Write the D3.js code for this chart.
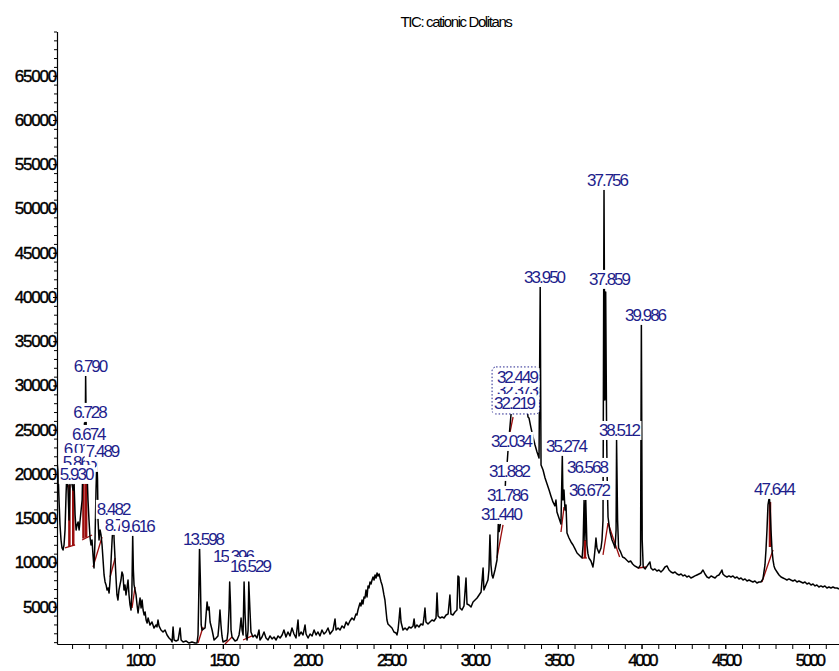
<!DOCTYPE html>
<html>
<head>
<meta charset="utf-8">
<script src="https://cdn.jsdelivr.net/npm/d3@7"></script>
<style>
  body { margin: 0; background: #fff; }
  svg { display: block; }
</style>
</head>
<body>
<div id="chart"></div>
<script>
// TIC trace: [scan, abundance]
const trace = [
  [510,21360],[516,20450],[522,17060],[528,14240],[534,12540],[540,11640],[546,11410],[552,11980],[558,13670],[564,17630],
  [570,20680],[576,18190],[582,14800],[588,19320],[594,21810],[600,18760],[606,18190],[612,18870],[618,15370],[624,13670],
  [630,14240],[636,14580],[642,13670],[648,14800],[654,15930],[660,17060],[667,23500],[670,20450],[674,25760],[678,22600],
  [681,31190],[685,24000],[689,20450],[695,17060],[701,14800],[707,12880],[713,11980],[719,12540],[725,10850],[731,9380],
  [737,12540],[743,18190],[748,21580],[752,19320],[755,14800],[761,12540],[767,13670],[773,13110],[779,11980],[785,10280],
  [791,8590],[797,7800],[803,7460],[809,6890],[815,7120],[821,6550],[827,8020],[833,10280],[839,12540],[847,15030],
  [851,12540],[857,10280],[863,8020],[868,6330],[874,5760],[880,6890],[886,7460],[892,8020],[898,8930],[904,8590],
  [910,6890],[916,7460],[922,6330],[928,7120],[934,8020],[940,6330],[946,5200],[952,4630],[957,6500],[962,13110],
  [966,9150],[970,7460],[976,6900],[982,6330],[988,5200],[994,4290],[1000,5200],[1006,5990],[1012,4860],[1018,5760],
  [1024,4630],[1030,4070],[1036,4410],[1042,3500],[1048,3160],[1054,3730],[1065,2940],[1077,3280],[1089,2600],[1101,2940],
  [1107,2710],[1113,3500],[1119,2830],[1131,2370],[1143,2150],[1155,2370],[1167,1810],[1179,1470],[1191,1240],[1197,1020],
  [1203,2710],[1209,1240],[1221,1130],[1233,1240],[1245,2600],[1251,1240],[1263,1020],[1280,1130],[1298,900],[1316,1020],
  [1334,900],[1346,900],[1352,1810],[1356,5760],[1361,11750],[1366,8020],[1371,2940],[1376,2370],[1394,2600],[1400,4070],
  [1406,5540],[1412,4630],[1418,4970],[1424,3280],[1436,2370],[1448,1240],[1460,1470],[1471,1700],[1477,2940],[1483,4630],
  [1489,2940],[1495,1700],[1501,1020],[1513,1130],[1525,1240],[1531,2150],[1537,4630],[1541,7800],[1546,5200],[1549,2370],
  [1555,1580],[1573,1130],[1585,1240],[1597,1810],[1603,2600],[1609,3730],[1615,2370],[1621,1810],[1627,7800],[1633,4070],
  [1639,1700],[1645,1240],[1651,2370],[1655,7800],[1662,4630],[1668,2150],[1680,1580],[1692,1810],[1704,1470],[1716,2370],
  [1722,1240],[1734,1580],[1746,2150],[1758,1470],[1770,1240],[1782,1700],[1794,1360],[1806,1580],[1818,1240],[1830,1700],
  [1842,1470],[1854,1810],[1865,2370],[1877,1580],[1889,2150],[1901,1700],[1913,2600],[1925,1920],[1937,1470],[1949,3500],
  [1955,1700],[1967,2150],[1979,1810],[1991,2940],[1997,1920],[2009,1470],[2021,1920],[2033,1700],[2045,2370],[2057,1810],
  [2068,2150],[2080,1700],[2092,2370],[2104,1920],[2116,2150],[2128,2600],[2140,1920],[2158,2370],[2170,3620],[2176,2370],
  [2188,2600],[2200,2370],[2212,2830],[2224,2600],[2236,3280],[2248,2940],[2259,3390],[2271,3730],[2283,3500],[2295,4180],
  [2301,4070],[2307,4630],[2319,5420],[2325,5090],[2331,5760],[2337,5310],[2343,6100],[2349,5990],[2355,6890],[2361,6100],
  [2367,7350],[2373,7120],[2379,7800],[2385,7570],[2391,8020],[2397,8360],[2403,8020],[2409,8590],[2415,8250],[2421,8810],
  [2427,8480],[2433,8700],[2439,8250],[2445,7800],[2451,7460],[2457,6890],[2462,6330],[2468,5760],[2474,4630],[2480,3500],
  [2486,3050],[2498,2830],[2510,2600],[2522,2150],[2534,2030],[2540,1810],[2546,2370],[2552,3500],[2558,4860],[2564,3280],
  [2576,2370],[2588,2600],[2600,2370],[2612,2710],[2624,2600],[2636,2830],[2642,3620],[2648,2600],[2659,2940],[2671,2710],
  [2683,3050],[2695,2940],[2701,3730],[2707,4860],[2713,3280],[2725,3050],[2737,3280],[2749,3500],[2761,3390],[2773,3730],
  [2779,6550],[2785,3960],[2797,3730],[2809,3840],[2821,3730],[2833,4070],[2845,4180],[2856,6330],[2862,4180],[2874,4070],
  [2886,4410],[2898,4630],[2904,8480],[2910,8360],[2916,4860],[2928,4630],[2940,5090],[2952,8250],[2958,5310],[2970,5200],
  [2982,4970],[2994,5540],[3006,5760],[3018,5990],[3030,6330],[3042,6670],[3054,9380],[3059,6890],[3071,7460],[3083,8020],
  [3089,9150],[3095,13110],[3101,9720],[3107,8590],[3113,8250],[3125,9150],[3137,10280],[3141,12000],[3145,14580],[3150,13500],
  [3156,14200],[3162,15000],[3168,15600],[3174,15800],[3179,16720],[3184,17200],[3188,19320],[3195,20500],[3203,22710],[3212,24800],
  [3222,27010],[3230,28000],[3237,28930],[3245,30060],[3255,31000],[3268,31800],[3280,32000],[3292,31500],[3305,30500],[3315,28000],
  [3322,26440],[3328,26330],[3340,25200],[3352,24180],[3364,23280],[3376,22490],[3388,21810],[3395,41130],[3400,21020],[3412,20450],
  [3424,19550],[3436,18870],[3448,18190],[3459,17520],[3471,16840],[3483,16390],[3489,17060],[3495,15710],[3507,15030],[3519,14350],
  [3527,22150],[3531,17060],[3537,18190],[3543,15930],[3549,16500],[3555,13330],[3567,12770],[3579,12320],[3591,11980],[3603,11530],
  [3615,11070],[3627,10850],[3639,10620],[3645,10510],[3651,11980],[3657,17060],[3662,12540],[3667,17060],[3674,11980],[3680,11000],
  [3686,10510],[3698,10170],[3710,9490],[3716,10280],[3722,11410],[3728,12770],[3734,11640],[3746,11070],[3758,11640],[3764,12540],
  [3770,14800],[3776,52320],[3781,28360],[3786,40570],[3791,26100],[3794,20450],[3800,15140],[3806,14240],[3812,13450],[3824,12540],
  [3836,11980],[3842,11640],[3848,13670],[3851,23840],[3857,14800],[3863,11640],[3875,11190],[3887,10620],[3899,10510],[3911,10280],
  [3923,10060],[3935,10170],[3947,9830],[3959,9610],[3971,9490],[3983,9380],[3994,9720],[3999,37060],[4004,12540],[4010,9490],
  [4022,9270],[4034,9610],[4050,10060],[4056,9380],[4068,9150],[4080,9270],[4092,9040],[4104,9150],[4116,8930],[4128,9150],
  [4140,9490],[4152,9610],[4164,9150],[4176,8930],[4188,8810],[4200,8930],[4212,8700],[4224,8590],[4236,8700],[4248,8480],
  [4259,8590],[4271,8360],[4283,8480],[4295,8250],[4307,8360],[4319,8480],[4331,8590],[4343,8700],[4355,8810],[4367,9150],
  [4379,8700],[4391,8360],[4403,8250],[4415,8480],[4427,8360],[4439,8250],[4450,8480],[4462,8590],[4474,8930],[4480,9150],
  [4486,8700],[4498,8480],[4510,8360],[4522,8480],[4534,8360],[4546,8480],[4558,8250],[4570,8360],[4582,8140],[4594,8250],
  [4606,8020],[4618,8140],[4630,7910],[4642,8020],[4653,7910],[4665,7800],[4677,7910],[4689,7680],[4701,7800],[4713,7800],
  [4725,8140],[4737,9720],[4743,11410],[4749,13670],[4755,16500],[4763,17400],[4767,16500],[4773,13670],[4779,11410],[4785,10280],
  [4791,9610],[4797,9270],[4809,8930],[4821,8590],[4833,8360],[4845,8250],[4856,8140],[4868,8020],[4880,8140],[4892,8020],
  [4904,7910],[4916,8020],[4928,7800],[4940,7910],[4952,7800],[4964,7680],[4976,7800],[4988,7570],[5000,7680],[5012,7460],
  [5024,7570],[5036,7350],[5047,7460],[5059,7230],[5071,7350],[5083,7230],[5095,7350],[5107,7120],[5119,7230],[5131,7120],
  [5143,7230],[5155,7120],[5167,7120],[5179,7010]
];

// integration baselines / drop lines: [scanStart, valueStart, scanEnd, valueEnd]
const baselines = [
  [558,11640,618,11980],[584,18760,584,11750],[607,18760,607,11900],
  [660,12540,719,13110],[668,19300,668,12700],[684,19300,684,12800],
  [725,9490,779,12880],[827,8360,857,10510],[958,4860,976,7230],
  [1352,900,1382,2710],[1513,790,1555,1580],[1621,1240,1674,1700],
  [3137,10510,3173,14240],[3209,24180,3233,26440],[3519,13450,3537,16270],
  [3645,10510,3674,10510],[3662,12540,3662,10510],
  [3770,10850,3800,14460],[3800,14460,3869,10620],
  [3977,9380,4028,9490],[4719,7800,4785,11410],[4767,16830,4767,11750]
];

// peak labels (retention time), drawn in this order
const peakNames  = ["6.012","5.863","5.930","6.674","7.489","6.728","6.790","8.482","8.746","9.616",
                    "13.598","15.396","16.529","31.440","31.786","31.882","32.034","32.373","32.219","32.449",
                    "33.950","35.274","36.568","36.672","37.859","37.756","38.512","39.986","47.644"];
const labelScan  = [648,642,624,697,779,704,707,845,892,990,
                    1382,1561,1662,3161,3197,3209,3221,3256,3239,3256,
                    3418,3549,3674,3686,3806,3794,3865,4021,4791];
const labelLevel = [22830,21360,20000,24520,22600,27010,32200,16050,14240,14130,
                    12660,10740,9600,15480,17630,20340,23730,29490,28020,30960,
                    42260,23170,20790,18190,42040,53220,24970,37970,18310];
const groupedNames = ["32.373","32.219","32.449"];

const yMajor = d3.range(5000, 65001, 5000);
const yMinor = d3.range(1000, 70001, 1000);
const xMajor = d3.range(1000, 5001, 500);
const xMinor = d3.range(600, 5101, 100);

const title = "TIC: cationic Dolitans";

const width = 839, height = 671;
const svg = d3.select("#chart").append("svg")
  .attr("width", width)
  .attr("height", height);

const x = d3.scaleLinear().domain([510, 5179]).range([57, 839]);
const y = d3.scaleLinear().domain([790, 70000]).range([644, 31.5]);

const font = "'Liberation Sans', Arial, sans-serif";

// title
svg.append("text")
  .attr("x", 456).attr("y", 27)
  .attr("text-anchor", "middle")
  .style("font-family", font)
  .style("font-size", "15px")
  .style("letter-spacing", "-1.4px")
  .text(title);

// clip for the trace
svg.append("clipPath").attr("id", "plot")
  .append("rect").attr("x", 57).attr("y", 0).attr("width", 782).attr("height", 644);

const plot = svg.append("g").attr("clip-path", "url(#plot)");

// red integration marks
plot.selectAll("line.base")
  .data(baselines)
  .join("line")
  .attr("class", "base")
  .attr("x1", d => x(d[0])).attr("y1", d => y(d[1]))
  .attr("x2", d => x(d[2])).attr("y2", d => y(d[3]))
  .attr("stroke", "#9b0d0d")
  .attr("stroke-width", d => d[0] === d[2] ? 2.5 : 1.3);

// the chromatogram
const line = d3.line().x(d => x(d[0])).y(d => y(d[1]));
plot.append("path")
  .datum(trace)
  .attr("d", line)
  .attr("fill", "none")
  .attr("stroke", "#000")
  .attr("stroke-width", 1.5)
  .attr("stroke-linejoin", "round");

// axes
const fmt = d3.format("d");

const xAxisMinor = d3.axisBottom(x).tickValues(xMinor).tickSize(5).tickFormat("").tickSizeOuter(0);
svg.append("g").attr("transform", "translate(0,644)").call(xAxisMinor);

const xAxis = d3.axisBottom(x).tickValues(xMajor).tickSize(5).tickSizeOuter(0).tickFormat(fmt);
const gx = svg.append("g").attr("transform", "translate(0,644)").call(xAxis);
gx.select(".domain").remove();
gx.selectAll("text")
  .attr("y", 10)
  .style("font-family", font)
  .style("font-size", "17px")
  .style("letter-spacing", "-2.6px")
  .attr("fill", "#000")
  .attr("stroke", "#000")
  .attr("stroke-width", 0.4);

const yAxisMinor = d3.axisLeft(y).tickValues(yMinor).tickSize(3).tickFormat("").tickSizeOuter(0);
svg.append("g").attr("transform", "translate(57,0)").call(yAxisMinor);

const yAxis = d3.axisLeft(y).tickValues(yMajor).tickSize(4).tickSizeOuter(0).tickFormat(fmt);
const gy = svg.append("g").attr("transform", "translate(57,0)").call(yAxis);
gy.select(".domain").remove();
gy.selectAll("text")
  .attr("x", -1)
  .style("font-family", font)
  .style("font-size", "17px")
  .style("letter-spacing", "-1.2px")
  .attr("fill", "#000")
  .attr("stroke", "#000")
  .attr("stroke-width", 0.4);

svg.selectAll(".domain").attr("stroke", "#000").attr("stroke-width", 1.2);
svg.selectAll(".tick line").attr("stroke", "#000");

// peak labels with white boxes, later ones cover earlier ones
const labelLayer = svg.append("g");
const groupNodes = [];
peakNames.forEach(function(name, i) {
  const g = labelLayer.append("g");
  const t = g.append("text")
    .attr("x", x(labelScan[i]))
    .attr("y", y(labelLevel[i]))
    .attr("dy", "0.35em")
    .attr("text-anchor", "middle")
    .style("font-family", font)
    .style("font-size", "17px")
    .style("letter-spacing", "-2px")
    .attr("fill", "#1e1e8c")
    .text(name);
  const b = t.node().getBBox();
  g.insert("rect", "text")
    .attr("x", b.x - 1).attr("y", b.y)
    .attr("width", b.width + 2).attr("height", b.height)
    .attr("fill", "#fff");
  if (groupedNames.includes(name)) groupNodes.push({ node: g.node(), box: b });
});

// dashed frame round the crowded 32.x labels
if (groupNodes.length) {
  const x0 = d3.min(groupNodes, d => d.box.x) - 2;
  const x1 = d3.max(groupNodes, d => d.box.x + d.box.width) + 1;
  const y0 = d3.min(groupNodes, d => d.box.y) - 1;
  const y1 = d3.max(groupNodes, d => d.box.y + d.box.height) + 1;
  const first = groupNodes[0].node;
  labelLayer.insert("rect", () => first)
    .attr("x", x0).attr("y", y0)
    .attr("width", x1 - x0).attr("height", y1 - y0)
    .attr("rx", 4)
    .attr("fill", "#fff")
    .attr("stroke", "#1e1e8c")
    .attr("stroke-width", 1)
    .attr("stroke-dasharray", "1.5,2");
}
</script>
</body>
</html>
